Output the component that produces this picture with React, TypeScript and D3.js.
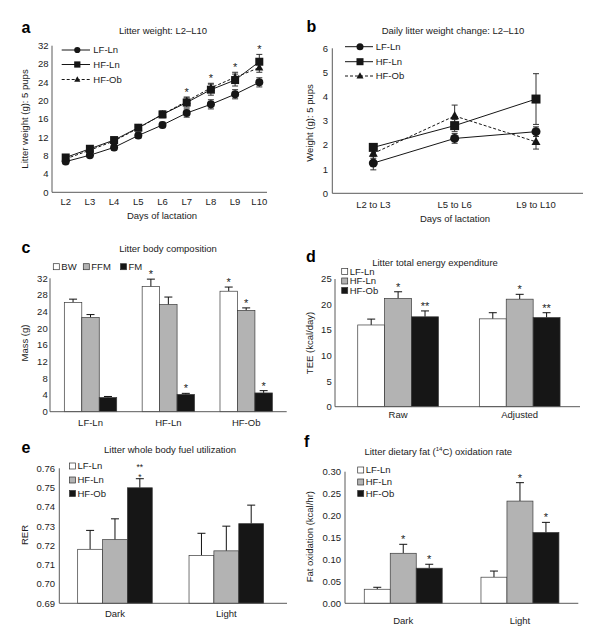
import React from 'react';
import * as d3 from 'd3';

const FONT = "'Liberation Sans', Arial, Helvetica, sans-serif";
const TXT = '#1c1c1c';
const AXC = '#5a5a5a';
const GREY = '#b3b3b3';
const BLACK = '#161616';

// ---------- Panel a ----------
const days = ['L2', 'L3', 'L4', 'L5', 'L6', 'L7', 'L8', 'L9', 'L10'];
const aLF = [6.7, 8.1, 9.8, 12.4, 14.7, 17.3, 19.2, 21.4, 24.0];
const aLFErr = [0.5, 0.5, 0.6, 0.6, 0.6, 0.9, 1.0, 1.0, 1.0];
const aHFLn = [7.6, 9.5, 11.4, 14.1, 17.0, 19.6, 22.4, 24.5, 28.5];
const aHFLnErr = [0.5, 0.6, 0.6, 0.6, 0.7, 1.0, 1.2, 1.3, 1.6];
const aHFOb = [7.3, 9.2, 11.2, 14.0, 17.0, 19.9, 22.8, 25.1, 27.2];
const aHFObErr = [0.5, 0.5, 0.6, 0.6, 0.7, 0.9, 1.0, 1.1, 1.0];
const aStars = ['', '', '', '', '', '*', '*', '*', '*'];
const aTicks = [0, 4, 8, 12, 16, 20, 24, 28, 32];

// ---------- Panel b ----------
const periods = ['L2 to L3', 'L5 to L6', 'L9 to L10'];
const bLF = [1.25, 2.27, 2.55];
const bLFErr = [0.28, 0.2, 0.2];
const bHFLn = [1.9, 2.8, 3.9];
const bHFLnErr = [0.12, 0.25, 1.05];
const bHFOb = [1.65, 3.2, 2.13];
const bHFObErr = [0.2, 0.45, 0.3];
const bTicks = [0, 1, 2, 3, 4, 5, 6];

// ---------- Panel c ----------
const compGroups = ['LF-Ln', 'HF-Ln', 'HF-Ob'];
const compSeries = ['BW', 'FFM', 'FM'];
const cBW = [26.2, 30.0, 28.9];
const cBWErr = [0.8, 1.8, 1.0];
const cFFM = [22.6, 25.7, 24.3];
const cFFMErr = [0.7, 1.8, 0.6];
const cFM = [3.4, 4.15, 4.5];
const cFMErr = [0.25, 0.25, 0.55];
const cBWStars = ['', '*', '*'];
const cFFMStars = ['', '', '*'];
const cFMStars = ['', '*', '*'];
const cTicks = [0, 4, 8, 12, 16, 20, 24, 28, 32];

// ---------- Shared groups ----------
const groupNames = ['LF-Ln', 'HF-Ln', 'HF-Ob'];

// ---------- Panel d ----------
const dCats = ['Raw', 'Adjusted'];
const dLF = [16.0, 17.2];
const dLFErr = [1.15, 1.2];
const dHFLn = [21.2, 21.05];
const dHFLnErr = [1.3, 0.95];
const dHFOb = [17.6, 17.45];
const dHFObErr = [1.15, 0.95];
const dHFLnStars = ['*', '*'];
const dHFObStars = ['**', '**'];
const dTicks = [0, 5, 10, 15, 20, 25];

// ---------- Panel e ----------
const eCats = ['Dark', 'Light'];
const eLF = [0.718, 0.7148];
const eLFErr = [0.0098, 0.0115];
const eHFLn = [0.723, 0.7172];
const eHFLnErr = [0.0108, 0.0128];
const eHFOb = [0.7499, 0.7313];
const eHFObErr = [0.0047, 0.0096];
const eHFObStars = ['*\n**', ''];
const eTicks = [0.69, 0.7, 0.71, 0.72, 0.73, 0.74, 0.75, 0.76];

// ---------- Panel f ----------
const fCats = ['Dark', 'Light'];
const fLF = [0.032, 0.0595];
const fLFErr = [0.0045, 0.014];
const fHFLn = [0.114, 0.233];
const fHFLnErr = [0.0205, 0.042];
const fHFOb = [0.08, 0.1615];
const fHFObErr = [0.009, 0.023];
const fHFLnStars = ['*', '*'];
const fHFObStars = ['*', '*'];
const fTicks = [0, 0.05, 0.1, 0.15, 0.2, 0.25, 0.3];

type MarkerType = 'circle' | 'square' | 'triangle';

function Marker({ type, x, y, s }: { type: MarkerType; x: number; y: number; s: number }) {
  if (type === 'circle') return <circle cx={x} cy={y} r={s / 2} fill={BLACK} />;
  if (type === 'square') return <rect x={x - s / 2} y={y - s / 2} width={s} height={s} fill={BLACK} />;
  const h = s * 0.9;
  return (
    <path
      d={`M${x},${y - h * 0.6} L${x + s / 2},${y + h * 0.4} L${x - s / 2},${y + h * 0.4} Z`}
      fill={BLACK}
    />
  );
}

function Txt(props: any) {
  const { children, ...rest } = props;
  return (
    <text fontFamily={FONT} fill={TXT} fontSize={9.5} {...rest}>
      {children}
    </text>
  );
}

type LineSeries = { name: string; values: number[]; errors: number[]; marker: MarkerType; dashed: boolean };

function LinePanel(props: {
  letter: string; letterX: number; letterY: number;
  title: string; titleX: number; titleY: number;
  cats: string[]; xRange: [number, number];
  yDomain: [number, number]; yRange: [number, number]; ticks: number[];
  axisX: number; axisEnd: number; tickLabelX: number;
  xLabelY: number; xTitle: string; xTitleX: number; xTitleY: number;
  yTitle: string; yTitleX: number; yTitleY: number;
  series: LineSeries[]; markerSize: number; stars?: string[]; starOffset?: number;
  legend: { x1: number; x2: number; mx: number; tx: number; ys: number[] };
}) {
  const x = d3.scalePoint<string>().domain(props.cats).range(props.xRange);
  const y = d3.scaleLinear().domain(props.yDomain).range(props.yRange);
  const line = (vals: number[]) =>
    d3.line<number>().x((_, i) => x(props.cats[i])!).y((v) => y(v))(vals) || '';
  const y0 = y(props.yDomain[0]);
  return (
    <g>
      <text x={props.letterX} y={props.letterY} fontFamily={FONT} fontWeight="bold" fontSize={16} fill="#000">
        {props.letter}
      </text>
      <Txt x={props.titleX} y={props.titleY} textAnchor="middle">{props.title}</Txt>
      <line x1={props.axisX} x2={props.axisX} y1={y0} y2={y(props.yDomain[1])} stroke={AXC} strokeWidth={1} />
      <line x1={props.axisX} x2={props.axisEnd} y1={y0} y2={y0} stroke={AXC} strokeWidth={1} />
      {props.ticks.map((t) => (
        <Txt key={t} x={props.tickLabelX} y={y(t) + 3.4} textAnchor="end">{t}</Txt>
      ))}
      {props.cats.map((c) => (
        <Txt key={c} x={x(c)} y={props.xLabelY} textAnchor="middle">{c}</Txt>
      ))}
      <Txt x={props.xTitleX} y={props.xTitleY} textAnchor="middle">{props.xTitle}</Txt>
      <Txt transform={`translate(${props.yTitleX},${props.yTitleY}) rotate(-90)`} textAnchor="middle" dy={3.4}>
        {props.yTitle}
      </Txt>
      {props.series.map((s) => (
        <path key={s.name + 'l'} d={line(s.values)} fill="none" stroke={BLACK} strokeWidth={1}
          strokeDasharray={s.dashed ? '3,2' : undefined} />
      ))}
      {props.series.map((s) => (
        <g key={s.name + 'e'}>
          {s.values.map((v, i) => {
            const cx = x(props.cats[i])!;
            const top = y(v + s.errors[i]);
            const bot = y(v - s.errors[i]);
            return (
              <g key={i}>
                <line x1={cx} x2={cx} y1={top} y2={bot} stroke="#333" strokeWidth={1} />
                <line x1={cx - 3} x2={cx + 3} y1={top} y2={top} stroke="#333" strokeWidth={1} />
                <line x1={cx - 3} x2={cx + 3} y1={bot} y2={bot} stroke="#333" strokeWidth={1} />
              </g>
            );
          })}
        </g>
      ))}
      {props.series.map((s) => (
        <g key={s.name + 'm'}>
          {s.values.map((v, i) => (
            <Marker key={i} type={s.marker} x={x(props.cats[i])!} y={y(v)} s={props.markerSize} />
          ))}
        </g>
      ))}
      {props.stars &&
        props.stars.map((st, i) => {
          if (!st) return null;
          const top = d3.max(props.series, (s) => s.values[i] + s.errors[i])!;
          return (
            <Txt key={i} x={x(props.cats[i])} y={y(top) - (props.starOffset || 2)} textAnchor="middle" fontSize={11}>
              {st}
            </Txt>
          );
        })}
      {props.series.map((s, i) => (
        <g key={s.name + 'g'}>
          <line x1={props.legend.x1} x2={props.legend.x2} y1={props.legend.ys[i]} y2={props.legend.ys[i]}
            stroke={BLACK} strokeWidth={1} strokeDasharray={s.dashed ? '3,2' : undefined} />
          <Marker type={s.marker} x={props.legend.mx} y={props.legend.ys[i]} s={props.markerSize * 0.78} />
          <Txt x={props.legend.tx} y={props.legend.ys[i] + 3.4}>{s.name}</Txt>
        </g>
      ))}
    </g>
  );
}

type BarSeries = { name: string; values: number[]; errors: number[]; fill: string; stars: string[] };

function BarPanel(props: {
  letter: string; letterX: number; letterY: number;
  title: React.ReactNode; titleX: number; titleY: number;
  cats: string[]; bandRange: [number, number]; padInner: number; padOuter: number;
  yDomain: [number, number]; yRange: [number, number]; ticks: number[]; tickFmt: (v: number) => string;
  axisX: number; axisEnd: number; tickLabelX: number; xLabelY: number;
  yTitle: string; yTitleX: number; yTitleY: number;
  series: BarSeries[];
  legend: React.ReactNode;
}) {
  const x0 = d3.scaleBand<string>().domain(props.cats).range(props.bandRange)
    .paddingInner(props.padInner).paddingOuter(props.padOuter);
  const x1 = d3.scaleBand<string>().domain(props.series.map((s) => s.name)).range([0, x0.bandwidth()]);
  const y = d3.scaleLinear().domain(props.yDomain).range(props.yRange);
  const y0 = y(props.yDomain[0]);
  return (
    <g>
      <text x={props.letterX} y={props.letterY} fontFamily={FONT} fontWeight="bold" fontSize={16} fill="#000">
        {props.letter}
      </text>
      <Txt x={props.titleX} y={props.titleY} textAnchor="middle">{props.title}</Txt>
      {props.ticks.map((t) => (
        <Txt key={t} x={props.tickLabelX} y={y(t) + 3.4} textAnchor="end">{props.tickFmt(t)}</Txt>
      ))}
      {props.cats.map((c) => (
        <Txt key={c} x={x0(c)! + x0.bandwidth() / 2} y={props.xLabelY} textAnchor="middle">{c}</Txt>
      ))}
      <Txt transform={`translate(${props.yTitleX},${props.yTitleY}) rotate(-90)`} textAnchor="middle" dy={3.4}>
        {props.yTitle}
      </Txt>
      {props.series.map((s) => (
        <g key={s.name}>
          {s.values.map((v, i) => {
            const bx = x0(props.cats[i])! + x1(s.name)!;
            const bw = x1.bandwidth();
            const cx = bx + bw / 2;
            const top = y(v + s.errors[i]);
            const lines = s.stars[i] ? s.stars[i].split('\n') : [];
            const stacked = lines.length > 1;
            return (
              <g key={i}>
                <line x1={cx} x2={cx} y1={y(v)} y2={top} stroke="#111" strokeWidth={1} />
                <line x1={cx - 4} x2={cx + 4} y1={top} y2={top} stroke="#111" strokeWidth={1} />
                <rect x={bx} y={y(v)} width={bw} height={y0 - y(v)} fill={s.fill} stroke="#3a3a3a" strokeWidth={0.7} />
                {lines.map((ln, k) => (
                  <Txt key={k} x={cx} y={top + (stacked ? 1 : -1) - k * 10} textAnchor="middle"
                    fontSize={stacked ? 8.5 : 11}>{ln}</Txt>
                ))}
              </g>
            );
          })}
        </g>
      ))}
      <line x1={props.axisX} x2={props.axisX} y1={y0} y2={y(props.yDomain[1])} stroke={AXC} strokeWidth={1} />
      <line x1={props.axisX} x2={props.axisEnd} y1={y0} y2={y0} stroke={AXC} strokeWidth={1} />
      {props.legend}
    </g>
  );
}

function LegendSquare({ x, y, fill, label }: { x: number; y: number; fill: string; label: string }) {
  return (
    <g>
      <rect x={x} y={y - 3} width={6} height={6} fill={fill} stroke="#333" strokeWidth={0.7} />
      <Txt x={x + 8} y={y + 3.4}>{label}</Txt>
    </g>
  );
}

export default function App() {
  const fills = ['#ffffff', GREY, BLACK];
  const cSeries: BarSeries[] = [
    { name: compSeries[0], values: cBW, errors: cBWErr, fill: fills[0], stars: cBWStars },
    { name: compSeries[1], values: cFFM, errors: cFFMErr, fill: fills[1], stars: cFFMStars },
    { name: compSeries[2], values: cFM, errors: cFMErr, fill: fills[2], stars: cFMStars },
  ];
  const dSeries: BarSeries[] = [
    { name: groupNames[0], values: dLF, errors: dLFErr, fill: fills[0], stars: ['', ''] },
    { name: groupNames[1], values: dHFLn, errors: dHFLnErr, fill: fills[1], stars: dHFLnStars },
    { name: groupNames[2], values: dHFOb, errors: dHFObErr, fill: fills[2], stars: dHFObStars },
  ];
  const eSeries: BarSeries[] = [
    { name: groupNames[0], values: eLF, errors: eLFErr, fill: fills[0], stars: ['', ''] },
    { name: groupNames[1], values: eHFLn, errors: eHFLnErr, fill: fills[1], stars: ['', ''] },
    { name: groupNames[2], values: eHFOb, errors: eHFObErr, fill: fills[2], stars: eHFObStars },
  ];
  const fSeries: BarSeries[] = [
    { name: groupNames[0], values: fLF, errors: fLFErr, fill: fills[0], stars: ['', ''] },
    { name: groupNames[1], values: fHFLn, errors: fHFLnErr, fill: fills[1], stars: fHFLnStars },
    { name: groupNames[2], values: fHFOb, errors: fHFObErr, fill: fills[2], stars: fHFObStars },
  ];
  const markers: MarkerType[] = ['circle', 'square', 'triangle'];
  const aSeries: LineSeries[] = [
    { name: groupNames[0], values: aLF, errors: aLFErr, marker: markers[0], dashed: false },
    { name: groupNames[1], values: aHFLn, errors: aHFLnErr, marker: markers[1], dashed: false },
    { name: groupNames[2], values: aHFOb, errors: aHFObErr, marker: markers[2], dashed: true },
  ];
  const bSeries: LineSeries[] = [
    { name: groupNames[0], values: bLF, errors: bLFErr, marker: markers[0], dashed: false },
    { name: groupNames[1], values: bHFLn, errors: bHFLnErr, marker: markers[1], dashed: false },
    { name: groupNames[2], values: bHFOb, errors: bHFObErr, marker: markers[2], dashed: true },
  ];
  const fmt2 = d3.format('.2f');
  return (
    <svg width={600} height={632} style={{ position: 'absolute', left: 0, top: 0, background: '#fff' }}>
      <rect width={600} height={632} fill="#fff" />
      <LinePanel
        letter="a" letterX={21.5} letterY={32.5}
        title="Litter weight: L2–L10" titleX={163} titleY={33.5}
        cats={days} xRange={[65.7, 259.3]} yDomain={[0, 32]} yRange={[192.3, 45.7]} ticks={aTicks}
        axisX={52} axisEnd={267} tickLabelX={48.5} xLabelY={204.5}
        xTitle="Days of lactation" xTitleX={162} xTitleY={219}
        yTitle="Litter weight (g): 5 pups" yTitleX={25} yTitleY={119}
        series={aSeries} markerSize={8} stars={aStars} starOffset={1}
        legend={{ x1: 61.7, x2: 90, mx: 77.3, tx: 93.3, ys: [50, 64.5, 79.5] }}
      />
      <LinePanel
        letter="b" letterX={306.5} letterY={32.3}
        title="Daily litter weight change: L2–L10" titleX={453} titleY={33.5}
        cats={periods} xRange={[373.3, 536]} yDomain={[0, 6]} yRange={[193.3, 48.3]} ticks={bTicks}
        axisX={332.3} axisEnd={583} tickLabelX={328} xLabelY={207.5}
        xTitle="Days of lactation" xTitleX={455} xTitleY={221.5}
        yTitle="Weight (g): 5 pups" yTitleX={310} yTitleY={123}
        series={bSeries} markerSize={9}
        legend={{ x1: 345, x2: 373, mx: 360, tx: 375.7, ys: [46.7, 61.7, 76] }}
      />
      <BarPanel
        letter="c" letterX={21.5} letterY={253.3}
        title="Litter body composition" titleX={168} titleY={251.8}
        cats={compGroups} bandRange={[50, 286.7]} padInner={0.327} padOuter={0.184}
        yDomain={[0, 32]} yRange={[411.7, 278.3]} ticks={cTicks} tickFmt={(v) => String(v)}
        axisX={50} axisEnd={286.7} tickLabelX={47.7} xLabelY={426}
        yTitle="Mass (g)" yTitleX={25} yTitleY={343}
        series={cSeries}
        legend={
          <g>
            <LegendSquare x={53.3} y={266.7} fill={fills[0]} label={compSeries[0]} />
            <LegendSquare x={83.3} y={266.7} fill={fills[1]} label={compSeries[1]} />
            <LegendSquare x={120.5} y={266.7} fill={fills[2]} label={compSeries[2]} />
          </g>
        }
      />
      <BarPanel
        letter="d" letterX={306} letterY={261.7}
        title="Litter total energy expenditure" titleX={435} titleY={265.8}
        cats={dCats} bandRange={[335, 582.8]} padInner={0.336} padOuter={0.187}
        yDomain={[0, 25]} yRange={[406.7, 279]} ticks={dTicks} tickFmt={(v) => String(v)}
        axisX={335} axisEnd={580} tickLabelX={331.7} xLabelY={417.8}
        yTitle="TEE (kcal/day)" yTitleX={310} yTitleY={343}
        series={dSeries}
        legend={
          <g>
            <LegendSquare x={341.7} y={271.5} fill={fills[0]} label={groupNames[0]} />
            <LegendSquare x={341.7} y={281} fill={fills[1]} label={groupNames[1]} />
            <LegendSquare x={341.7} y={290.5} fill={fills[2]} label={groupNames[2]} />
          </g>
        }
      />
      <BarPanel
        letter="e" letterX={21.5} letterY={453.3}
        title="Litter whole body fuel utilization" titleX={170} titleY={452.8}
        cats={eCats} bandRange={[59.3, 282]} padInner={0.33} padOuter={0.165}
        yDomain={[0.69, 0.76]} yRange={[603.3, 468.3]} ticks={eTicks} tickFmt={fmt2}
        axisX={59.3} axisEnd={287} tickLabelX={55} xLabelY={616.8}
        yTitle="RER" yTitleX={25} yTitleY={535}
        series={eSeries}
        legend={
          <g>
            <LegendSquare x={69.5} y={466} fill={fills[0]} label={groupNames[0]} />
            <LegendSquare x={69.5} y={480} fill={fills[1]} label={groupNames[1]} />
            <LegendSquare x={69.5} y={493.5} fill={fills[2]} label={groupNames[2]} />
          </g>
        }
      />
      <BarPanel
        letter="f" letterX={304} letterY={447.3}
        title={
          <>
            Litter dietary fat (<tspan fontSize={6} dy={-4}>14</tspan>
            <tspan dy={4}>C) oxidation rate</tspan>
          </>
        }
        titleX={438.3} titleY={455}
        cats={fCats} bandRange={[345, 578.2]} padInner={0.332} padOuter={0.165}
        yDomain={[0, 0.3]} yRange={[603.3, 471.7]} ticks={fTicks} tickFmt={fmt2}
        axisX={345} axisEnd={578.3} tickLabelX={341} xLabelY={623.5}
        yTitle="Fat oxidation (kcal/hr)" yTitleX={310} yTitleY={536.7}
        series={fSeries}
        legend={
          <g>
            <LegendSquare x={357.7} y={470} fill={fills[0]} label={groupNames[0]} />
            <LegendSquare x={357.7} y={482} fill={fills[1]} label={groupNames[1]} />
            <LegendSquare x={357.7} y={493.5} fill={fills[2]} label={groupNames[2]} />
          </g>
        }
      />
    </svg>
  );
}
